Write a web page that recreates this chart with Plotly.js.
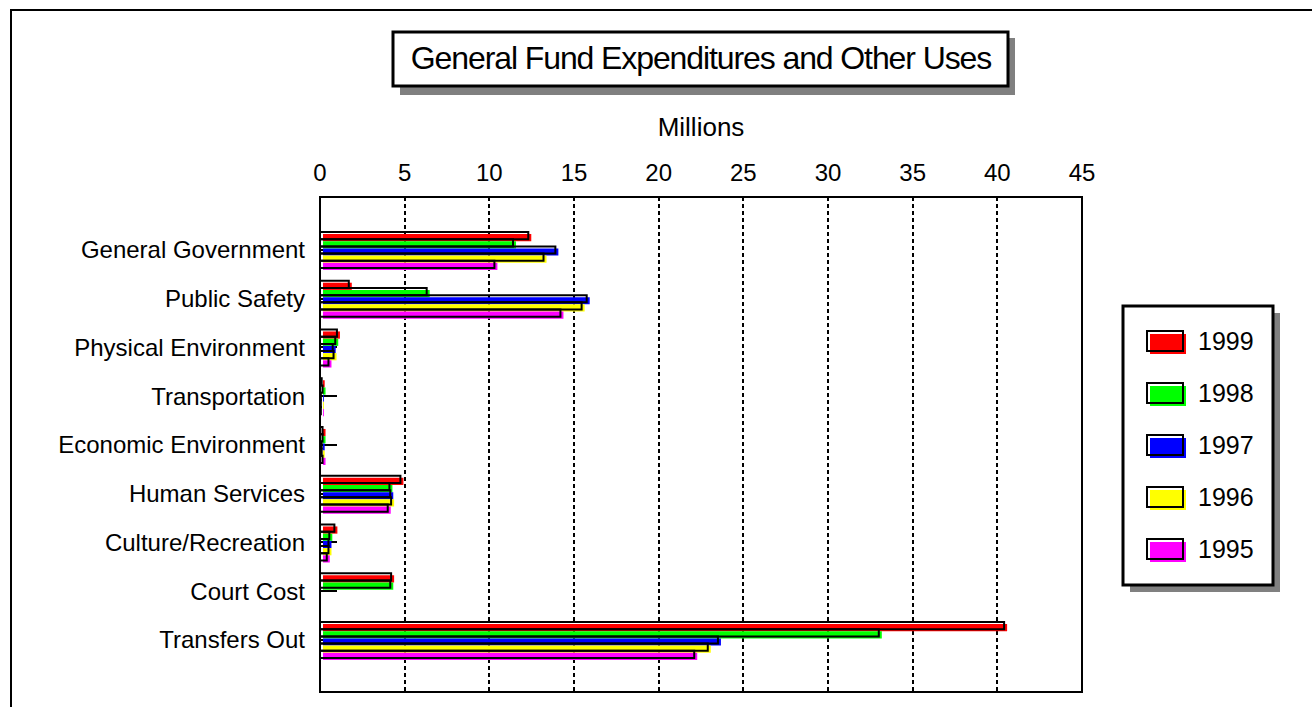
<!DOCTYPE html>
<html>
<head>
<meta charset="utf-8">
<script src="https://cdn.plot.ly/plotly-3.0.1.min.js"></script>
<style>
  html, body { margin: 0; padding: 0; background: #fff; }
  #chart { width: 1312px; height: 707px; }
  /* drop-shadow look of the original: colour fill sits slightly right/below its outline */
  .barlayer .trace:nth-child(-n+5) { transform: translate(3px, 2px); }
  .gtitle { letter-spacing: -1.1px; }
</style>
</head>
<body>
<div id="chart"></div>
<script>
// ---- data ----
const categories = ['General Government', 'Public Safety', 'Physical Environment', 'Transportation',
  'Economic Environment', 'Human Services', 'Culture/Recreation', 'Court Cost', 'Transfers Out'];
const years = ['1999', '1998', '1997', '1996', '1995'];
const v1999 = [12.3, 1.7, 1.0, 0.1, 0.15, 4.75, 0.85, 4.2, 40.4];
const v1998 = [11.4, 6.3, 0.9, 0.15, 0.15, 4.1, 0.55, 4.15, 33.0];
const v1997 = [13.9, 15.75, 0.75, 0.05, 0.1, 4.15, 0.5, 0, 23.5];
const v1996 = [13.2, 15.45, 0.8, 0.05, 0.1, 4.2, 0.5, 0, 22.9];
const v1995 = [10.3, 14.2, 0.5, 0.05, 0.15, 4.0, 0.4, 0, 22.1];
const xTicks = [0, 5, 10, 15, 20, 25, 30, 35, 40, 45];

const seriesValues = [v1999, v1998, v1997, v1996, v1995];
const seriesColors = ['#FF0000', '#00FF00', '#0000FF', '#FFFF00', '#FF00FF'];

// ---- geometry helpers (plot area in pixels) ----
const W = 1312, H = 707;
const L = 320, R = 1082, T = 197, B = 692;
const px = x => (x - L) / (R - L);
const py = y => (B - y) / (B - T);
const FONT = '"Liberation Sans", Arial, sans-serif';

// colour fills (first five traces, shifted by CSS) and black outlines on top
const fillTraces = years.map((yr, i) => ({
  type: 'bar', orientation: 'h', name: yr, offsetgroup: yr, showlegend: false,
  y: categories, x: seriesValues[i],
  marker: { color: seriesColors[i], line: { width: 0 } },
  hoverinfo: 'x+y+name'
}));
const outlineTraces = years.map((yr, i) => ({
  type: 'bar', orientation: 'h', name: yr, offsetgroup: yr, showlegend: false,
  y: categories, x: seriesValues[i],
  marker: { color: 'rgba(0,0,0,0)', line: { color: '#000', width: 2 } },
  hoverinfo: 'skip'
}));

const rect = (x0, y0, x1, y1, fill, lineW, lineC) => ({
  type: 'rect', xref: 'paper', yref: 'paper', layer: 'above',
  x0: px(x0), x1: px(x1), y0: py(y1), y1: py(y0),
  fillcolor: fill, line: { color: lineC || '#000', width: lineW }
});

const shapes = [
  // outer frame
  { type: 'rect', xref: 'paper', yref: 'paper', layer: 'below',
    x0: px(11), x1: px(1340), y0: py(740), y1: py(10),
    fillcolor: 'rgba(0,0,0,0)', line: { color: '#000', width: 2 } },
  // plot border
  { type: 'rect', xref: 'paper', yref: 'paper', layer: 'above',
    x0: 0, x1: 1, y0: 0, y1: 1, line: { color: '#000', width: 2 } },
  // title box shadow + box
  rect(400, 38, 1015, 95, '#808080', 0),
  rect(393, 32, 1008, 86, '#FFFFFF', 3),
  // legend shadow + box
  rect(1130, 313, 1280, 592, '#808080', 0),
  rect(1123, 306, 1273, 585, '#FFFFFF', 3)
];

// legend (drawn with swatches + text, styled like the original)
const annotations = [];
const LEG_Y0 = 341, LEG_DY = 52;
years.forEach((yr, i) => {
  const cy = LEG_Y0 + LEG_DY * i;
  shapes.push(rect(1150, cy - 7, 1186, cy + 13, seriesColors[i], 0));
  shapes.push(rect(1147, cy - 10, 1183, cy + 10, 'rgba(0,0,0,0)', 2));
  annotations.push({
    xref: 'paper', yref: 'paper', x: px(1196), y: py(cy), xanchor: 'left', yanchor: 'middle',
    text: yr, showarrow: false, font: { size: 25 }
  });
});

const layout = {
  width: W, height: H,
  margin: { l: L, r: W - R, t: T, b: H - B, autoexpand: false },
  paper_bgcolor: '#fff', plot_bgcolor: '#fff',
  font: { family: FONT, color: '#000', size: 24 },
  title: {
    text: 'General Fund Expenditures and Other Uses',
    font: { family: FONT, size: 32, color: '#000' },
    xref: 'paper', x: px(701), xanchor: 'center',
    yref: 'container', y: 1 - 58 / H, yanchor: 'middle'
  },
  barmode: 'group', bargap: 0.26, bargroupgap: 0,
  xaxis: {
    side: 'top', range: [0, 45], tickvals: xTicks, ticktext: xTicks.map(String),
    showgrid: true, gridcolor: '#000', gridwidth: 2, griddash: '4px,3px',
    zeroline: false, showline: false, ticks: '', ticklabelstandoff: 10,
    tickfont: { size: 24 },
    title: { text: 'Millions', font: { size: 26 }, standoff: 15 },
    fixedrange: true
  },
  yaxis: {
    type: 'category', range: [9.067, -1.087], autorange: false,
    categoryorder: 'array', categoryarray: categories,
    ticks: 'inside', ticklen: 17, tickwidth: 2, tickcolor: '#000',
    showgrid: false, zeroline: false, showline: false, ticklabelstandoff: 14,
    layer: 'below traces', tickfont: { size: 24 },
    fixedrange: true
  },
  showlegend: false,
  shapes: shapes,
  annotations: annotations
};

Plotly.newPlot('chart', fillTraces.concat(outlineTraces), layout, { displayModeBar: false, staticPlot: true });
</script>
</body>
</html>
